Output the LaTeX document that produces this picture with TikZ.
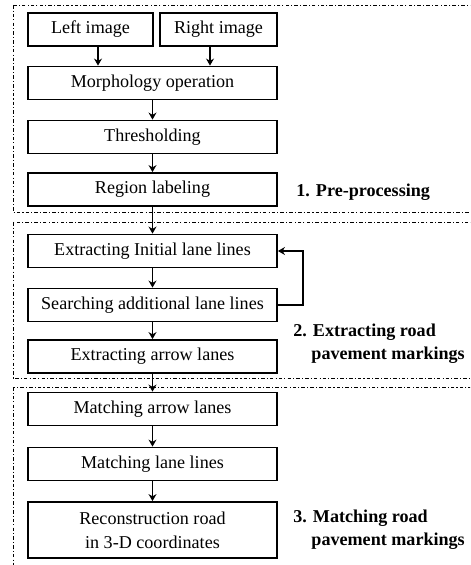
\documentclass[tikz,border=0pt]{standalone}
\usepackage{fontspec}
\setmainfont{Liberation Serif}
\usepackage{tikz}
\usetikzlibrary{positioning, arrows.meta, calc}

\begin{document}
\begin{tikzpicture}[
        font=\fontsize{10.3}{13.5}\selectfont,
        b/.style={rectangle, draw, line width=1pt, fill=white, align=center,
            inner sep=2pt, minimum width=4.98cm, minimum height=0.66cm},
        arr/.style={-{Stealth[length=4pt, width=4.5pt]}, line width=0.8pt},
        grp/.style={line width=0.5pt, dash pattern=on 2pt off 1.2pt on 0.6pt off 1.2pt},
        lab/.style={anchor=west, inner sep=0pt, align=left, font=\fontsize{10.3}{13}\selectfont\bfseries}
    ]
    \clip (0,0) rectangle (9.4,-11.3);
    % stage frames
    \draw[grp] (0.26,-0.10) rectangle (9.6,-4.24);
    \draw[grp] (0.26,-4.44) rectangle (9.6,-7.56);
    \draw[grp] (0.26,-7.74) rectangle (9.6,-11.6);
    % stage 1
    \node[b, minimum width=2.5cm]  (lft) at (1.81,-0.59) {Left image};
    \node[b, minimum width=2.34cm] (rgt) at (4.37,-0.59) {Right image};
    \node[b] (morph) at (3.05,-1.66) {Morphology operation};
    \node[b] (thr)   at (3.05,-2.74) {Thresholding};
    \node[b] (reg)   at (3.05,-3.79) {Region labeling};
    % stage 2
    \node[b] (init)  at (3.05,-5.02) {Extracting Initial lane lines};
    \node[b] (srch)  at (3.05,-6.10) {Searching additional lane lines};
    \node[b] (arrw)  at (3.05,-7.13) {Extracting arrow lanes};
    % stage 3
    \node[b] (marr)  at (3.05,-8.18) {Matching arrow lanes};
    \node[b] (mlane) at (3.05,-9.28) {Matching lane lines};
    \node[b, minimum height=1.12cm] (recon) at (3.05,-10.60) {Reconstruction road\\in 3-D coordinates};
    \draw[arr] ([xshift=0.15cm]lft.south) -- ([xshift=0.15cm]lft.south |- morph.north);
    \draw[arr] ([xshift=-0.17cm]rgt.south) -- ([xshift=-0.17cm]rgt.south |- morph.north);
    \draw[arr] (morph) -- (thr);
    \draw[arr] (thr) -- (reg);
    \draw[arr] (reg) -- (init);
    \draw[arr] (init) -- (srch);
    \draw[arr] (srch) -- (arrw);
    \draw[arr] (arrw) -- (marr);
    \draw[arr] (marr) -- (mlane);
    \draw[arr] (mlane) -- (recon);
    \draw[arr] (srch.east) -- ++(0.5,0) |- (init.east);
    \node[lab] (lab1) at (5.92,-3.84) {1. Pre-processing};
    \node[lab] (lab2) at (5.86,-6.87) {2. Extracting road\\\phantom{2.}\ pavement markings};
    \node[lab] (lab3) at (5.86,-10.60) {3. Matching road\\\phantom{3.}\ pavement markings};
    \end{tikzpicture}
\end{document}
